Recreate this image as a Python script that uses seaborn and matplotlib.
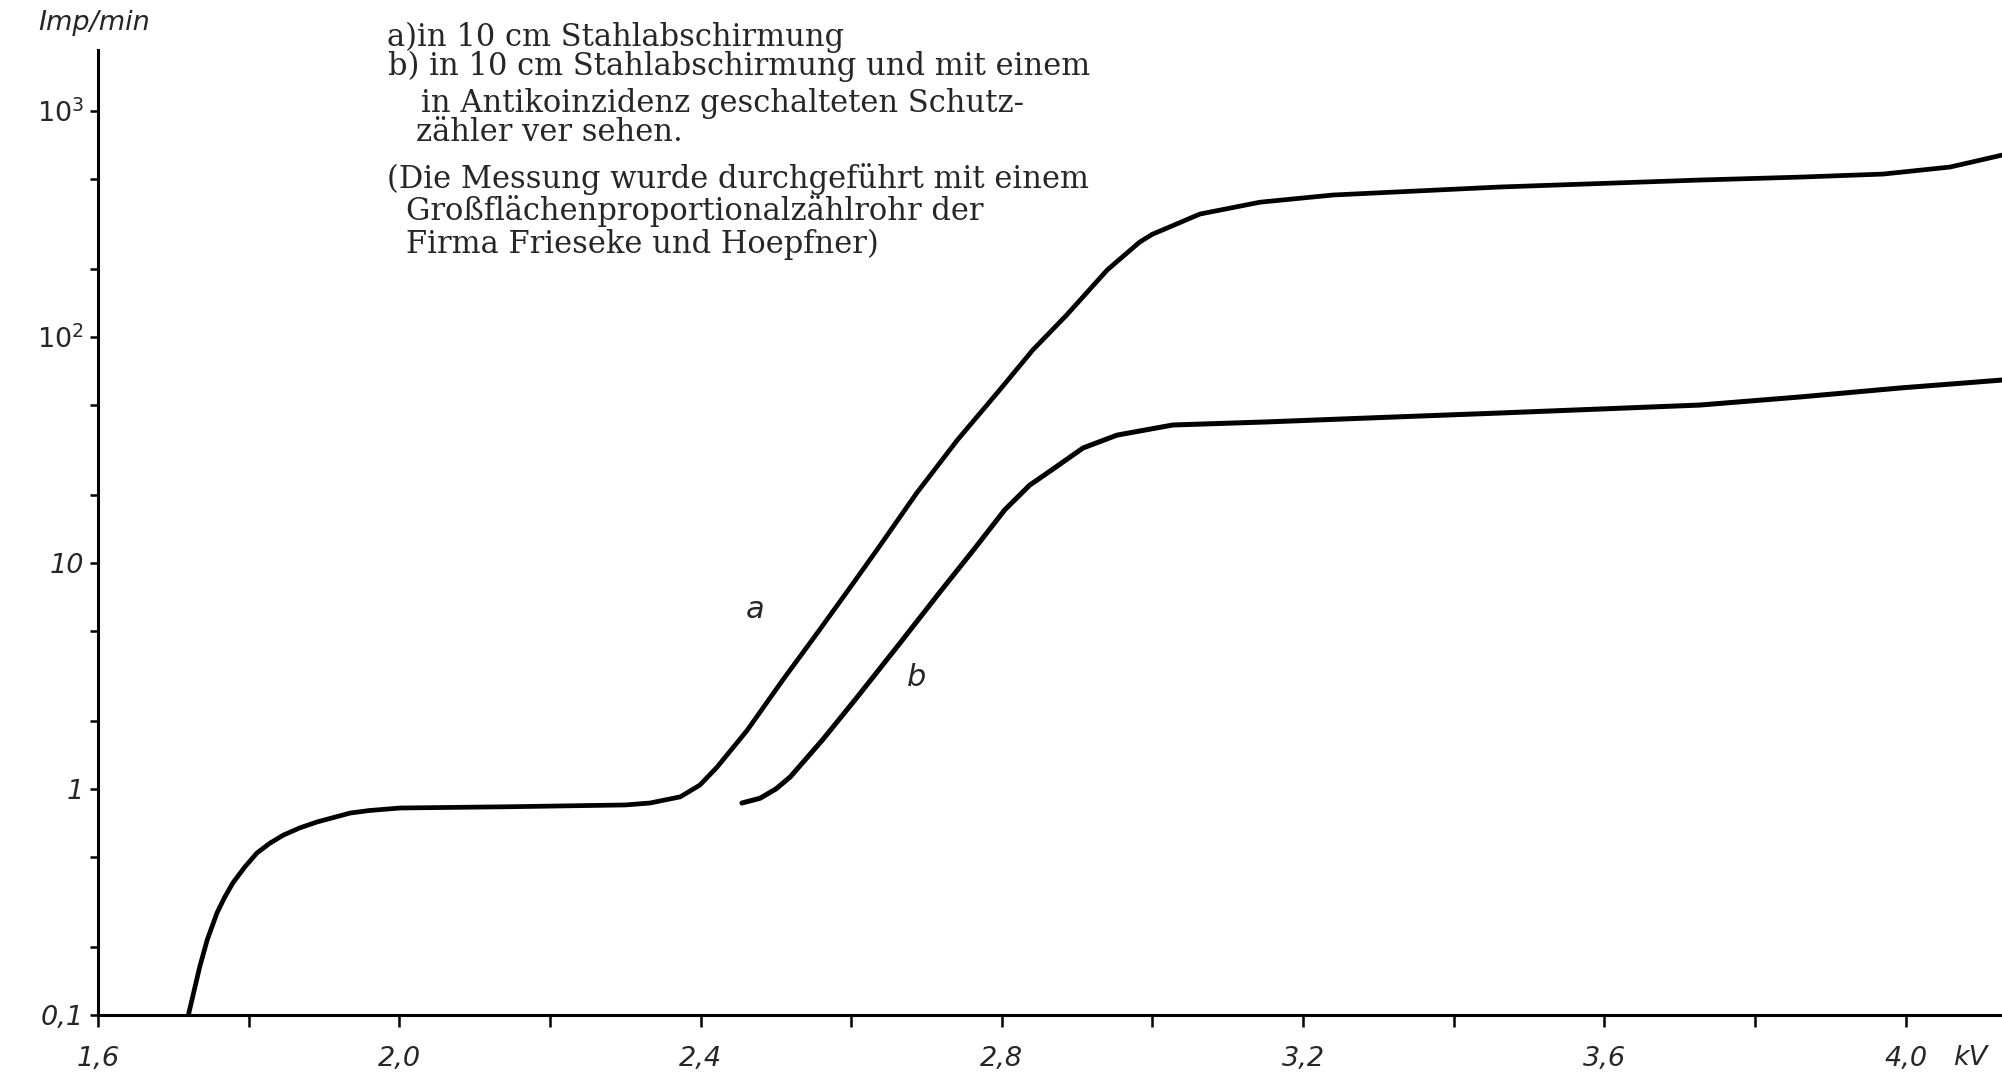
import numpy as np
import pandas as pd
import matplotlib
matplotlib.use("Agg")
import matplotlib.pyplot as plt
import seaborn as sns

# Counting rate (Imp/min) against counter voltage (kV)
# a) 10 cm steel shielding only
kv_a = [1.720, 1.735, 1.745, 1.758, 1.768, 1.779, 1.795, 1.811, 1.828, 1.846,
        1.868, 1.891, 1.935, 1.960, 2.001, 2.15, 2.30, 2.333, 2.373, 2.399,
        2.422, 2.462, 2.509, 2.555, 2.598, 2.634, 2.687, 2.741, 2.797, 2.841,
        2.886, 2.940, 2.983, 3.000, 3.019, 3.063, 3.143, 3.240, 3.461, 3.727,
        3.860, 3.970, 4.059, 4.128]
imp_a = [0.100, 0.163, 0.215, 0.283, 0.331, 0.384, 0.452, 0.521, 0.575, 0.625,
         0.673, 0.715, 0.783, 0.803, 0.824, 0.835, 0.85, 0.867, 0.923, 1.04,
         1.25, 1.82, 3.03, 4.90, 7.74, 11.4, 20.4, 35.0, 58.2, 87.5,
         125, 198, 263, 285, 303, 350, 395, 425, 461, 495,
         510, 526, 565, 638]

# b) 10 cm steel shielding plus guard counter in anticoincidence
kv_b = [2.455, 2.479, 2.500, 2.519, 2.562, 2.608, 2.665, 2.718, 2.764, 2.804,
        2.837, 2.864, 2.908, 2.953, 3.027, 3.152, 3.285, 3.461, 3.727, 3.860,
        3.993, 4.128]
imp_b = [0.867, 0.91, 1.00, 1.13, 1.65, 2.55, 4.43, 7.45, 11.6, 17.2,
         22.1, 25.5, 32.3, 36.8, 40.8, 42.1, 43.8, 46.1, 50.0, 54.3,
         59.5, 64.5]

x_ticks = [1.6, 1.8, 2.0, 2.2, 2.4, 2.6, 2.8, 3.0, 3.2, 3.4, 3.6, 3.8, 4.0]
x_tick_labels = ["1,6", "", "2,0", "", "2,4", "", "2,8", "", "3,2", "", "3,6", "", "4,0"]
y_ticks = [0.1, 1, 10, 100, 1000]
y_tick_labels = ["0,1", "1", "10", r"$\mathit{10}^{\mathit{2}}$", r"$\mathit{10}^{\mathit{3}}$"]
y_minor = [0.2, 0.5, 2, 5, 20, 50, 200, 500]

legend_lines = [
    ("a)in 10 cm Stahlabschirmung", 387, 46),
    ("b) in 10 cm Stahlabschirmung und mit einem", 388, 75),
    ("in Antikoinzidenz geschalteten Schutz-", 421, 112),
    ("zähler ver sehen.", 416, 141),
    ("(Die Messung wurde durchgeführt mit einem", 387, 188),
    ("Großflächenproportionalzählrohr der", 406, 220),
    ("Firma Frieseke und Hoepfner)", 406, 253),
]

sns.set_theme(style="ticks")
plt.rcParams["font.family"] = ["DejaVu Sans"]
plt.rcParams["mathtext.fontset"] = "dejavusans"

W, H = 2002, 1075
fig = plt.figure(figsize=(W / 100, H / 100), dpi=100)
fig.patch.set_facecolor("white")
ax = fig.add_axes([98 / W, 1 - 1015 / H, 1 - 98 / W, (1015 - 50) / H])
ax.set_facecolor("white")

df_a = pd.DataFrame({"kV": kv_a, "Imp/min": imp_a})
df_b = pd.DataFrame({"kV": kv_b, "Imp/min": imp_b})
sns.lineplot(data=df_a, x="kV", y="Imp/min", ax=ax, color="black", lw=3.4,
             estimator=None, solid_capstyle="round", solid_joinstyle="round")
sns.lineplot(data=df_b, x="kV", y="Imp/min", ax=ax, color="black", lw=3.6,
             estimator=None, solid_capstyle="round", solid_joinstyle="round")

ax.set_yscale("log")
ax.set_xlim(1.6, 4.128)
ax.set_ylim(0.1, 1862)

ax.set_xticks(x_ticks)
ax.set_xticklabels(x_tick_labels, fontstyle="italic", fontsize=19.5)
ax.set_yticks(y_ticks)
ax.set_yticks(y_minor, minor=True)
ax.set_yticklabels(y_tick_labels, fontstyle="italic", fontsize=19.5)
ax.tick_params(axis="x", which="major", length=8.5, width=1.8, pad=14, color="black")
ax.tick_params(axis="y", which="both", length=6, width=1.8, pad=4, color="black")
ax.tick_params(axis="y", which="minor", labelleft=False)
ax.tick_params(axis="x", which="minor", bottom=False)

ax.set_xlabel("")
ax.set_ylabel("")
for side in ("top", "right"):
    ax.spines[side].set_visible(False)
for side in ("left", "bottom"):
    ax.spines[side].set_linewidth(2.2)
    ax.spines[side].set_color("black")

# curve labels
ax.text(2.472, 6.2, "a", fontsize=22, fontstyle="italic", ha="center", va="center")
ax.text(2.687, 3.13, "b", fontsize=22, fontstyle="italic", ha="center", va="center")

# axis captions
fig.text(38 / W, 1 - 23 / H, "Imp/min", fontsize=19.5, fontstyle="italic",
         ha="left", va="center")
fig.text(1953 / W, 1 - 1058 / H, "kV", fontsize=19.5, fontstyle="italic",
         ha="left", va="center")

# explanatory text block
for txt, px, py in legend_lines:
    fig.text(px / W, 1 - py / H, txt, fontsize=22, family="DejaVu Serif",
             ha="left", va="baseline")

fig.savefig("out.png", dpi=100, facecolor="white")
